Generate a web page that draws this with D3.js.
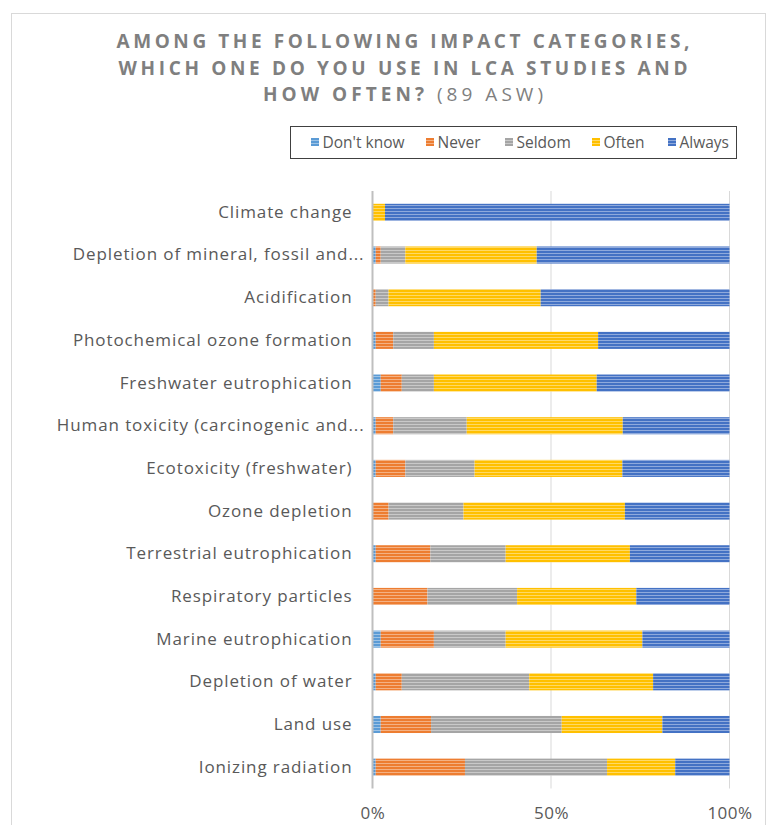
<!DOCTYPE html>
<html>
<head>
<meta charset="utf-8">
<script src="https://cdn.jsdelivr.net/npm/d3@7"></script>
<style>
  body { margin: 0; background: #fff; }
  svg { display: block; }
</style>
</head>
<body>
<div id="chart"></div>
<script>
// survey answers, share of respondents in %
var categories = [
  "Climate change",
  "Depletion of mineral, fossil and...",
  "Acidification",
  "Photochemical ozone formation",
  "Freshwater eutrophication",
  "Human toxicity (carcinogenic and...",
  "Ecotoxicity (freshwater)",
  "Ozone depletion",
  "Terrestrial eutrophication",
  "Respiratory particles",
  "Marine eutrophication",
  "Depletion of water",
  "Land use",
  "Ionizing radiation"
];
var seriesNames = ["Don't know", "Never", "Seldom", "Often", "Always"];
var dontKnow = [0, 0.9, 0, 0.9, 2.3, 0.9, 0.9, 0, 0.9, 0, 2.3, 0.9, 2.3, 0.9];
var never    = [0, 1.4, 0.9, 4.9, 5.9, 4.9, 8.3, 4.5, 15.3, 15.4, 14.9, 7.3, 14.1, 25.0];
var seldom   = [0, 6.9, 3.6, 11.4, 9.0, 20.6, 19.4, 21.0, 21.1, 25.1, 20.1, 35.7, 36.6, 39.8];
var often    = [3.5, 36.8, 42.6, 46.0, 45.6, 43.7, 41.4, 45.2, 34.8, 33.4, 38.3, 34.7, 28.2, 19.1];
var always   = [96.5, 54.0, 52.9, 36.8, 37.2, 29.9, 30.0, 29.3, 27.9, 26.1, 24.4, 21.4, 18.8, 15.2];
var xTicks = [0, 50, 100];
var titleLines = ["AMONG THE FOLLOWING IMPACT CATEGORIES,", "WHICH ONE DO YOU USE IN LCA STUDIES AND", "HOW OFTEN?"];
var titleTail = " (89 ASW)";

var colors = ["#5B9BD5", "#ED7D31", "#A5A5A5", "#FFC000", "#4472C4"];

var W = 770, H = 825;
var svg = d3.select("#chart").append("svg")
  .attr("width", W)
  .attr("height", H);

// striped fills like the Excel texture
var defs = svg.append("defs");
colors.forEach(function (c, i) {
  var p = defs.append("pattern")
    .attr("id", "stripe" + i)
    .attr("patternUnits", "userSpaceOnUse")
    .attr("width", 6)
    .attr("height", 3);
  p.append("rect").attr("width", 6).attr("height", 3).attr("fill", c);
  p.append("rect").attr("y", 1).attr("width", 6).attr("height", 1)
    .attr("fill", d3.interpolateRgb(c, "#fff")(0.4));
});

// chart frame
svg.append("rect")
  .attr("x", 11.5).attr("y", 13.5)
  .attr("width", 754).attr("height", 830)
  .attr("fill", "none")
  .attr("stroke", "#d9d9d9");

// title
var title = svg.append("g")
  .attr("font-family", "'Open Sans', sans-serif")
  .attr("font-size", 19)
  .attr("fill", "#7f7f7f")
  .attr("text-anchor", "middle");
var titleWidths = [573, 569, 280];
titleLines.forEach(function (line, i) {
  var t = title.append("text")
    .attr("x", 403)
    .attr("y", 48 + i * 26.5)
    .attr("textLength", titleWidths[i])
    .attr("lengthAdjust", "spacing");
  t.append("tspan").attr("font-weight", "bold").text(line);
  if (i == titleLines.length - 1)
    t.append("tspan").attr("font-weight", "normal").text(titleTail);
});

// scales
var x = d3.scaleLinear().domain([0, 100]).range([372.5, 729.5]);
var y = d3.scaleBand().domain(categories).range([191, 788.5]).paddingInner(0.6).paddingOuter(0.3);

// gridlines
svg.append("g").selectAll("line")
  .data(xTicks.filter(function (d) { return d > 0 }))
  .enter().append("line")
  .attr("x1", function (d) { return x(d) })
  .attr("x2", function (d) { return x(d) })
  .attr("y1", 191)
  .attr("y2", 788.5)
  .attr("stroke", "#d9d9d9")
  .attr("stroke-width", 1);

// stacked bars
var rows = categories.map(function (c, i) {
  return { cat: c, "Don't know": dontKnow[i], "Never": never[i], "Seldom": seldom[i], "Often": often[i], "Always": always[i] };
});
var stacked = d3.stack().keys(seriesNames)(rows);

svg.append("g").selectAll("g")
  .data(stacked)
  .enter().append("g")
  .attr("fill", function (d, i) { return "url(#stripe" + i + ")" })
  .selectAll("rect")
  .data(function (d) { return d })
  .enter().append("rect")
  .attr("x", function (d) { return x(d[0]) })
  .attr("width", function (d) { return Math.max(0, x(d[1]) - x(d[0])) })
  .attr("y", function (d) { return y(d.data.cat) })
  .attr("height", y.bandwidth());

// category axis
var yAxis = svg.append("g")
  .attr("transform", "translate(" + x(0) + ",0)")
  .call(d3.axisLeft(y).tickSize(0).tickPadding(20));
yAxis.select(".domain").remove();
yAxis.selectAll("text")
  .attr("font-family", "'Open Sans', sans-serif")
  .attr("font-size", 17)
  .attr("letter-spacing", "0.9px")
  .attr("fill", "#595959")
  // truncated labels run a little further right, as in Excel
  .attr("dx", function (d) { return d.slice(-3) == "..." ? 12 : 0 });

svg.append("line")
  .attr("x1", x(0)).attr("x2", x(0))
  .attr("y1", 191).attr("y2", 788.5)
  .attr("stroke", "#bfbfbf")
  .attr("stroke-width", 2);

// value axis
var xAxis = svg.append("g")
  .attr("transform", "translate(0,788.5)")
  .call(d3.axisBottom(x).tickValues(xTicks).tickSize(0).tickPadding(18)
    .tickFormat(function (d) { return d + "%" }));
xAxis.select(".domain").remove();
xAxis.selectAll("text")
  .attr("font-family", "'Open Sans', sans-serif")
  .attr("font-size", 17)
  .attr("letter-spacing", "0.5px")
  .attr("fill", "#595959");

// legend
var legend = svg.append("g");
legend.append("rect")
  .attr("x", 290.5).attr("y", 126.5)
  .attr("width", 446).attr("height", 32)
  .attr("fill", "#fff")
  .attr("stroke", "#404040");
var legendX = [315, 430, 509, 596, 672];
seriesNames.forEach(function (name, i) {
  var g = legend.append("g").attr("transform", "translate(" + legendX[i] + ",142)");
  g.append("rect")
    .attr("x", -4).attr("y", -4)
    .attr("width", 8).attr("height", 8)
    .attr("fill", "url(#stripe" + i + ")");
  g.append("text")
    .attr("x", 7.5)
    .attr("y", 5.5)
    .attr("font-family", "'Open Sans', sans-serif")
    .attr("font-size", 15.5)
    .attr("fill", "#595959")
    .text(name);
});
</script>
</body>
</html>
